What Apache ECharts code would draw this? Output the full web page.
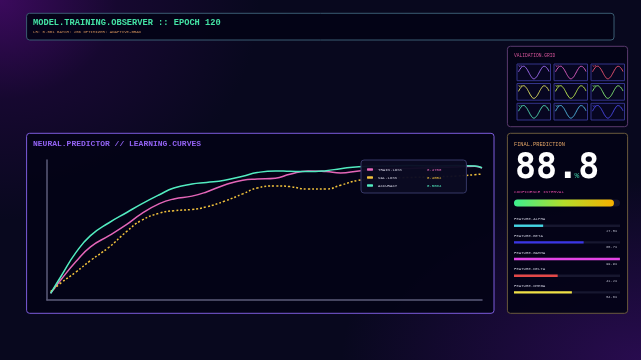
<!DOCTYPE html>
<html><head><meta charset="utf-8">
<script src="https://cdn.jsdelivr.net/npm/echarts@6/dist/echarts.min.js"></script>
<style>
html,body{margin:0;padding:0;width:641px;height:360px;overflow:hidden;}
body{background:
 radial-gradient(ellipse 260px 220px at 0% 0%, rgba(62,10,96,0.95) 0%, rgba(40,8,70,0.45) 45%, rgba(0,0,0,0) 100%),
 radial-gradient(ellipse 300px 180px at 100% 100%, rgba(44,12,84,0.9) 0%, rgba(0,0,0,0) 100%),
 #08081e;}
#c{width:641px;height:360px;}
</style></head>
<body><div id="c"></div>
<script>
// ---------- data ----------
const epochs     = [1, 4, 8, 12, 17, 22, 26, 31, 35, 40, 44, 49, 54, 58, 63, 67, 72, 77, 81, 86, 93, 100, 107, 113, 118, 120];
const trainLoss  = [0.048, 0.15, 0.275, 0.38, 0.458, 0.54, 0.615, 0.688, 0.722, 0.742, 0.772, 0.822, 0.856, 0.864, 0.87, 0.898, 0.922, 0.917, 0.908, 0.922, 0.935, 0.94, 0.945, 0.95, 0.955, 0.943];
const valLoss    = [0.06, 0.125, 0.2, 0.282, 0.375, 0.49, 0.568, 0.62, 0.638, 0.647, 0.665, 0.706, 0.758, 0.8, 0.815, 0.81, 0.792, 0.792, 0.82, 0.855, 0.87, 0.875, 0.88, 0.885, 0.895, 0.9];
const accuracy   = [0.048, 0.175, 0.34, 0.46, 0.55, 0.625, 0.685, 0.752, 0.8, 0.828, 0.839, 0.855, 0.884, 0.91, 0.922, 0.919, 0.917, 0.924, 0.938, 0.952, 0.958, 0.96, 0.958, 0.96, 0.957, 0.945];
const seriesNames  = ['TRAIN.LOSS', 'VAL.LOSS', 'ACCURACY'];
const legendValues = ['0.4700', '0.4052', '0.5084'];

const waveX = [0, 0.083, 0.167, 0.25, 0.333, 0.417, 0.5, 0.583, 0.667, 0.75, 0.833, 0.917, 1];
const waveY = [0.1, 0.75, 1.0, 0.7, 0.05, -0.65, -1.0, -0.75, -0.1, 0.6, 0.98, 0.8, 0.15];
const cellLabels = ['V1','V2','V3','V4','V5','V6','V7','V8','V9'];

const predictionText = '88.8';
const confidence = 94.3;
const featureNames  = ['FEATURE.ALPHA', 'FEATURE.BETA', 'FEATURE.GAMMA', 'FEATURE.DELTA', 'FEATURE.OMEGA'];
const featureValues = [27.5, 65.7, 99.9, 41.2, 54.6];

// ---------- styles ----------
const mono = '"Liberation Mono", "DejaVu Sans Mono", monospace';
const lineColors = ['#e466b8', '#f2c23c', '#52ecc0'];
const cellColors = ['#9a68ea', '#d45abc', '#e2506e', '#d6d862', '#b4e050', '#7ede72', '#52d8b2', '#52b2dc', '#4a48e4'];
const featureColors = ['#44d6e4', '#3a34e6', '#e444e6', '#e44848', '#f0e044'];

const chart = echarts.init(document.getElementById('c'), null, {renderer: 'canvas', width: 641, height: 360});

const grids = [], xAxes = [], yAxes = [], series = [];

// main chart grid (0)
grids.push({left: 47, top: 160, width: 435, height: 140});
xAxes.push({type: 'value', gridIndex: 0, min: 0, max: 120,
  axisLine: {lineStyle: {color: '#5c5c7a', width: 1.5}}, axisTick: {show: false}, axisLabel: {show: false}, splitLine: {show: false}});
yAxes.push({type: 'value', gridIndex: 0, min: 0, max: 1,
  axisLine: {show: true, lineStyle: {color: '#5c5c7a', width: 1.5}}, axisTick: {show: false}, axisLabel: {show: false}, splitLine: {show: false}});
const lineData = [trainLoss, valLoss, accuracy];
lineData.forEach((vals, i) => {
  series.push({
    name: seriesNames[i], type: 'line', xAxisIndex: 0, yAxisIndex: 0,
    data: epochs.map((e, k) => [e, vals[k]]),
    smooth: 0.5, showSymbol: false, symbol: 'none',
    lineStyle: {color: lineColors[i], width: 1.5, type: i === 1 ? [2, 2] : 'solid'},
    itemStyle: {color: lineColors[i]},
    z: i === 2 ? 4 : 3
  });
});

// validation mini grids (1..9)
const colL = [517, 554, 591], rowT = [64, 83.5, 103.3];
for (let r = 0; r < 3; r++) for (let c = 0; c < 3; c++) {
  const k = r * 3 + c, gi = grids.length;
  grids.push({left: colL[c], top: rowT[r], width: 33.5, height: 16.7, show: true,
    borderColor: '#34348a', borderWidth: 1, backgroundColor: 'rgba(10,8,40,0.6)'});
  xAxes.push({type: 'value', gridIndex: gi, min: -0.05, max: 1.05, show: false});
  yAxes.push({type: 'value', gridIndex: gi, min: -1.3, max: 1.35, show: false});
  series.push({type: 'line', xAxisIndex: gi, yAxisIndex: gi,
    data: waveX.map((x, j) => [x, waveY[j]]), smooth: 0.5, showSymbol: false, symbol: 'none',
    lineStyle: {color: cellColors[k], width: 1}, silent: true});
}

// confidence bar grid (10)
const gConf = grids.length;
grids.push({left: 514, top: 199.5, width: 106, height: 7});
xAxes.push({type: 'value', gridIndex: gConf, min: 0, max: 100, show: false});
yAxes.push({type: 'category', gridIndex: gConf, data: ['CONF'], show: false});
series.push({type: 'bar', xAxisIndex: gConf, yAxisIndex: gConf, data: [confidence], barWidth: 7,
  showBackground: true, backgroundStyle: {color: '#15152e', borderRadius: 3.5},
  itemStyle: {borderRadius: 3.5, color: new echarts.graphic.LinearGradient(0, 0, 1, 0,
    [{offset: 0, color: '#3cf08e'}, {offset: 0.5, color: '#b4dc2a'}, {offset: 1, color: '#f6b000'}])}});

// feature bars grid (11)
const gFeat = grids.length;
grids.push({left: 514, top: 217.4, width: 106, height: 83.3});
xAxes.push({type: 'value', gridIndex: gFeat, min: 0, max: 100, show: false});
yAxes.push({type: 'category', gridIndex: gFeat, data: featureNames, inverse: true, position: 'left',
  axisLine: {show: false}, axisTick: {show: false},
  axisLabel: {inside: true, margin: 0, align: 'left', verticalAlign: 'bottom', padding: [0, 0, 4.5, 0],
    color: '#c4c4d4', fontSize: 4, fontFamily: mono}});
yAxes.push({type: 'category', gridIndex: gFeat, data: featureValues.map(v => v.toFixed(1) + '%'), inverse: true, position: 'right',
  axisLine: {show: false}, axisTick: {show: false},
  axisLabel: {inside: true, margin: 3, align: 'right', verticalAlign: 'top', padding: [3, 0, 0, 0],
    color: '#b4b4c4', fontSize: 3.6, fontFamily: mono}});
series.push({type: 'bar', xAxisIndex: gFeat, yAxisIndex: gFeat, barWidth: 2.4,
  data: featureValues.map((v, i) => ({value: v, itemStyle: {color: featureColors[i]}})),
  showBackground: true, backgroundStyle: {color: '#17172f'}});

// ---------- panels and texts ----------
function panel(x, y, w, h, stroke) {
  return {type: 'rect', z: -10, shape: {x: x, y: y, width: w, height: h, r: 3},
    style: {fill: 'rgba(3,3,22,0.92)', stroke: stroke, lineWidth: 1}};
}
function txt(x, y, text, size, color, weight) {
  return {type: 'text', z: 5, x: x, y: y,
    style: {text: text, fontSize: size, fill: color, fontFamily: mono, fontWeight: weight || 'normal', verticalAlign: 'middle'}};
}
const graphics = [
  panel(26.6, 13.3, 587.4, 26.7, '#3a5c72'),
  panel(507.4, 46.3, 120.2, 80.4, '#5a3a6e'),
  panel(26.6, 133.3, 467.4, 180, '#7c5cdc'),
  panel(507.4, 133.3, 120.2, 180, '#6a5a3c'),
  txt(33, 22.5, 'MODEL.TRAINING.OBSERVER :: EPOCH 120', 8.7, '#44e2a4', 'bold'),
  txt(33, 32.3, 'LR: 0.001 BATCH: 256 OPTIMIZER: ADAPTIVE-GRAD', 4, '#d4925a'),
  txt(33, 144.3, 'NEURAL.PREDICTOR // LEARNING.CURVES', 8, '#9262f2', 'bold'),
  txt(514, 55.3, 'VALIDATION.GRID', 4.6, '#d4549a'),
  txt(514, 145, 'FINAL.PREDICTION', 5.3, '#e2a466'),
  {type: 'text', z: 5, x: 515, y: 169, style: {text: predictionText, fontSize: 35, fill: '#ffffff', fontFamily: '"DejaVu Sans Mono", monospace', fontWeight: 'bold', verticalAlign: 'middle'}},
  txt(574.5, 176, '%', 8, '#3cc8a2'),
  txt(514, 192, 'CONFIDENCE INTERVAL', 4.4, '#d2449a')
];
for (let r = 0; r < 3; r++) for (let c = 0; c < 3; c++) {
  const k = r * 3 + c;
  graphics.push(txt(colL[c] + 1.5, rowT[r] + 2.5, cellLabels[k], 3, cellColors[k]));
}

const rich = {n: {width: 49, color: '#d2d2e2', fontSize: 4, fontFamily: mono}};
legendValues.forEach((v, i) => { rich['v' + i] = {color: lineColors[i], fontSize: 4, fontFamily: mono}; });

chart.setOption({
  animation: false,
  backgroundColor: 'transparent',
  grid: grids, xAxis: xAxes, yAxis: yAxes, series: series,
  graphic: graphics,
  legend: {
    data: seriesNames, orient: 'vertical', left: 361, top: 160,
    icon: 'roundRect', itemWidth: 6, itemHeight: 2.4, itemGap: 3,
    padding: [7, 25, 5, 6],
    backgroundColor: 'rgba(10,10,34,0.96)', borderColor: '#363866', borderWidth: 1, borderRadius: 3,
    textStyle: {fontSize: 4, lineHeight: 5, color: '#d2d2e2', fontFamily: mono, rich: rich},
    formatter: function (name) { const i = seriesNames.indexOf(name); return '{n|' + name + '}{v' + i + '|' + legendValues[i] + '}'; },
    selectedMode: false, z: 10
  }
});
</script></body></html>
